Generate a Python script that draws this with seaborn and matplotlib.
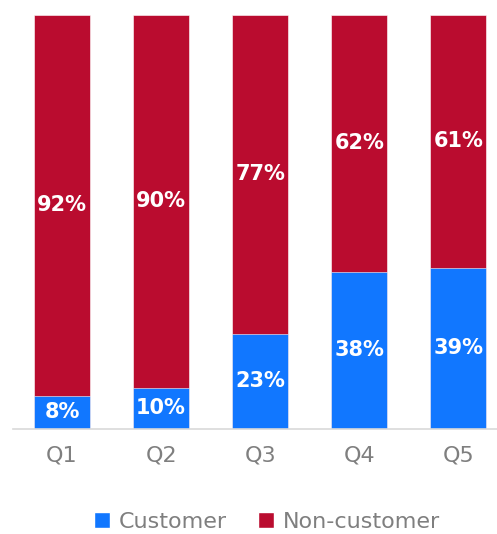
import matplotlib
matplotlib.use("Agg")
import matplotlib.pyplot as plt
import seaborn as sns
import pandas as pd
from matplotlib.patches import Patch

quarters = ["Q1", "Q2", "Q3", "Q4", "Q5"]
customer = [8, 10, 23, 38, 39]
non_customer = [92, 90, 77, 62, 61]

blue = "#1177ff"
red = "#ba0c2f"

sns.set_theme(style="white")
plt.rcParams["font.family"] = ["DejaVu Sans"]

df = pd.DataFrame({"quarter": quarters, "customer": customer,
                   "non_customer": non_customer})
df["total"] = df["customer"] + df["non_customer"]

fig = plt.figure(figsize=(4.97, 5.34), dpi=100)
ax = fig.add_axes([13 / 497, 1 - 429 / 534, 484 / 497, 414 / 534])

sns.barplot(data=df, x="quarter", y="total", color=red, width=0.566,
            saturation=1, ax=ax, edgecolor="white", linewidth=0.4)
sns.barplot(data=df, x="quarter", y="customer", color=blue, width=0.566,
            saturation=1, ax=ax, edgecolor="white", linewidth=0.4)

for i, (c, n) in enumerate(zip(customer, non_customer)):
    ax.text(i, c / 2, f"{c}%", ha="center", va="center", color="white",
            fontsize=15, fontweight="bold")
    ax.text(i, c + n / 2, f"{n}%", ha="center", va="center", color="white",
            fontsize=15, fontweight="bold")

ax.set_ylim(0, 100)
ax.set_xlim(-0.495, 4.39)
ax.set_xlabel("")
ax.set_ylabel("")
ax.set_yticks([])
for s in ["top", "left", "right"]:
    ax.spines[s].set_visible(False)
ax.spines["bottom"].set_color("#d9d9d9")
ax.spines["bottom"].set_linewidth(1.2)
ax.tick_params(axis="x", length=0, pad=12, labelsize=16, labelcolor="#7f7f7f")

handles = [Patch(facecolor=blue, label="Customer"),
           Patch(facecolor=red, label="Non-customer")]
fig.legend(handles=handles, loc="center", bbox_to_anchor=(267 / 497, 1 - 522 / 534),
           ncol=2, frameon=False, fontsize=16, handlelength=0.7, handleheight=0.7,
           handletextpad=0.4, columnspacing=1.4, labelcolor="#7f7f7f")

fig.savefig("out.png", dpi=100)
